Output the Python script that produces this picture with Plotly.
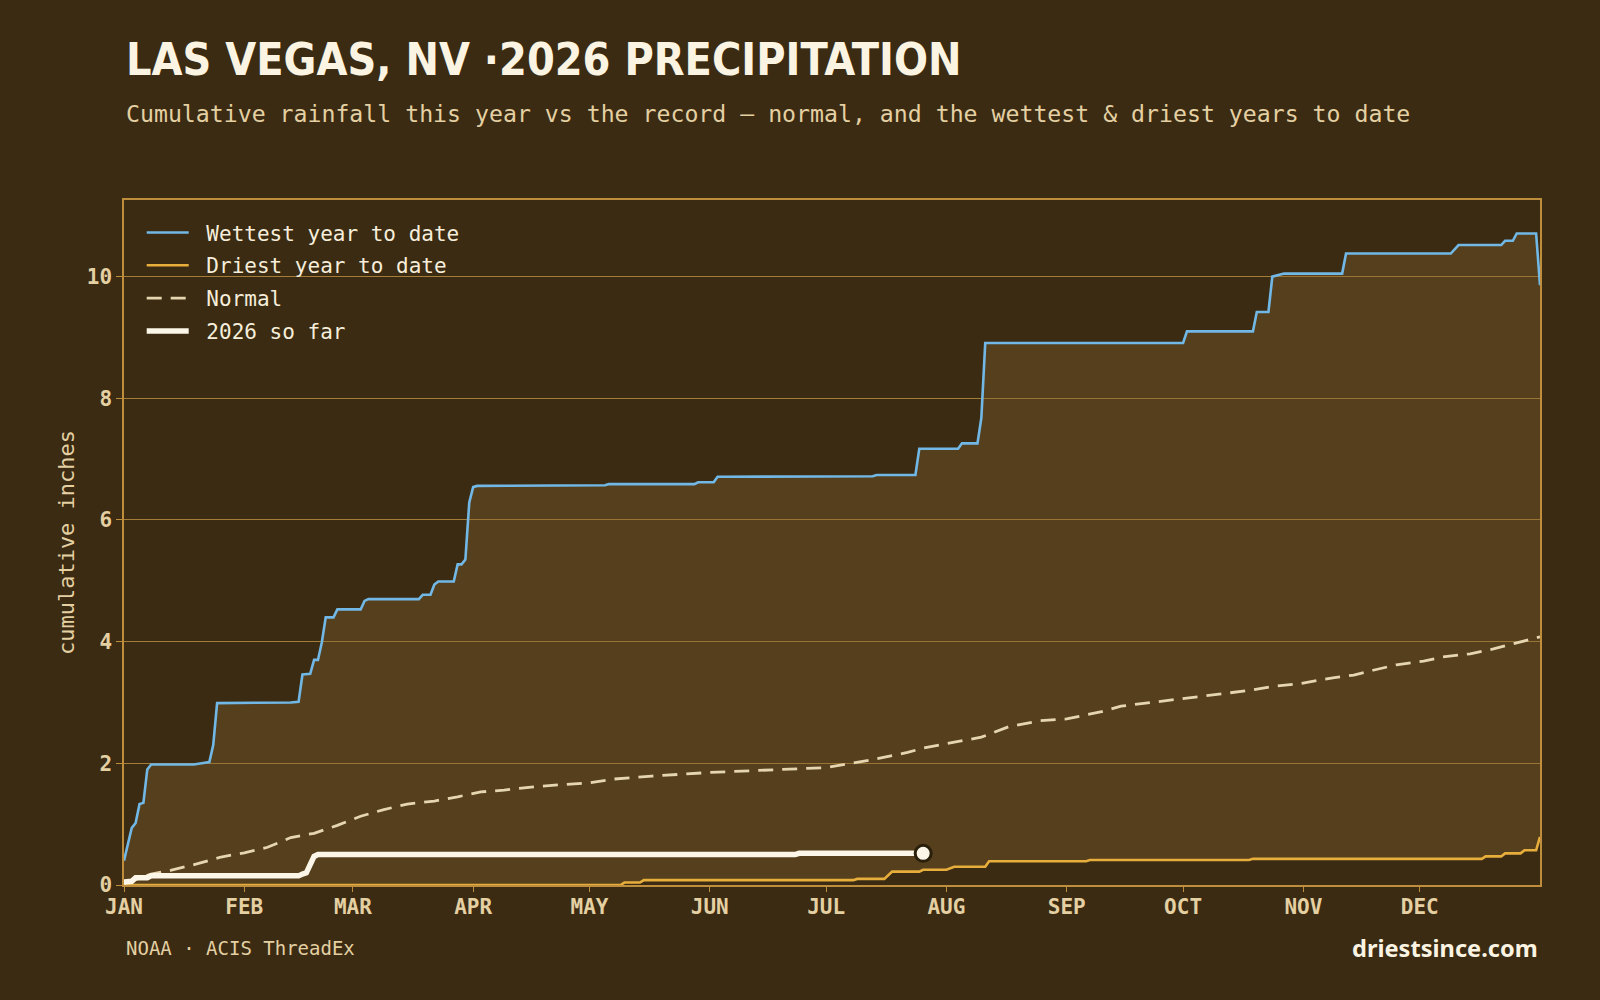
import plotly.graph_objects as go

# ---- data (day of year, 0 = Jan 1; cumulative inches) ----
WETTEST = [(0,0.40),(2,0.94),(3,1.02),(4,1.33),(5,1.35),(6,1.90),(7,1.98),(18,1.98),(20,2.00),(22,2.02),
           (23,2.30),(24,2.99),(43,3.00),(45,3.01),(46,3.46),(48,3.47),(49,3.70),(50,3.70),(51,3.99),(52,4.40),
           (54,4.40),(55,4.53),(61,4.53),(62,4.67),(63,4.70),(76,4.70),(77,4.77),(79,4.77),(80,4.94),(81,4.99),
           (85,4.99),(86,5.27),(87,5.27),(88,5.35),(89,6.29),(90,6.54),(91,6.56),(124,6.57),(125,6.59),(147,6.59),
           (148,6.62),(152,6.62),(153,6.71),(188,6.71),(189,6.72),(193,6.72),(194,6.74),(204,6.74),(205,7.17),
           (215,7.17),(216,7.26),(220,7.26),(221,7.68),(222,8.91),(273,8.91),(274,9.10),(291,9.10),(292,9.42),
           (295,9.42),(296,10.00),(299,10.05),(314,10.05),(315,10.38),(342,10.38),(344,10.52),(355,10.52),
           (356,10.59),(358,10.59),(359,10.71),(364,10.71),(365,9.86)]

DRIEST = [(0,0.0),(128,0.0),(129,0.04),(133,0.04),(134,0.08),(188,0.08),(189,0.10),(196,0.10),(198,0.22),
          (205,0.22),(206,0.25),(212,0.25),(214,0.30),(222,0.30),(223,0.39),(248,0.39),(249,0.41),(290,0.41),
          (291,0.43),(350,0.43),(351,0.47),(355,0.47),(356,0.52),(360,0.52),(361,0.57),(364,0.57),(365,0.79)]

NORMAL = [(0,0.02),(7,0.18),(12,0.24),(19,0.35),(25,0.46),(31,0.53),(37,0.62),(43,0.78),(49,0.85),(55,0.98),
          (61,1.13),(67,1.24),(73,1.33),(80,1.38),(86,1.45),(92,1.53),(98,1.56),(105,1.61),(113,1.65),(120,1.68),
          (126,1.74),(136,1.79),(151,1.85),(168,1.90),(181,1.93),(192,2.05),(202,2.18),(206,2.25),(212,2.32),
          (221,2.43),(228,2.60),(236,2.70),(243,2.73),(252,2.85),(257,2.94),(265,3.00),(273,3.07),(281,3.12),
          (289,3.19),(297,3.27),(303,3.31),(312,3.41),(317,3.45),(322,3.53),(328,3.62),(335,3.68),(340,3.75),
          (347,3.80),(353,3.88),(359,3.98),(365,4.08)]

YEAR_2026 = [(0,0.05),(2,0.06),(3,0.12),(6,0.12),(7,0.15),(45,0.15),(46,0.18),(47,0.20),(49,0.47),(50,0.50),
             (173,0.50),(174,0.52),(206,0.52)]

MONTH_START_DAYS = [0, 31, 59, 90, 120, 151, 181, 212, 243, 273, 304, 334]
MONTH_LABELS = ["JAN", "FEB", "MAR", "APR", "MAY", "JUN", "JUL", "AUG", "SEP", "OCT", "NOV", "DEC"]
Y_TICKS = [0, 2, 4, 6, 8, 10]

def xs(s): return [p[0] for p in s]
def ys(s): return [p[1] for p in s]

BG = "#3a2b12"
FILL = "rgba(132,101,49,0.36)"
GRID = "#a47d38"
FRAME = "#bf8e3c"
TAN = "#e4d0a2"
CREAM = "#f6eedb"
MONO = "DejaVu Sans Mono"
NB = "\u00a0"

fig = go.Figure()

fig.add_trace(go.Scatter(x=xs(DRIEST), y=ys(DRIEST), mode="lines", name=NB + "Driest year to date",
                         line=dict(color="#e8ae3c", width=2.6), legendrank=2, legendgroup="d"))
# band between driest and wettest
fig.add_trace(go.Scatter(x=xs(WETTEST), y=ys(WETTEST), mode="lines", showlegend=False,
                         line=dict(color="rgba(0,0,0,0)", width=0), fill="tonexty", fillcolor=FILL,
                         hoverinfo="skip"))
fig.add_trace(go.Scatter(x=xs(WETTEST), y=ys(WETTEST), mode="lines", name=NB + "Wettest year to date",
                         line=dict(color="#72b8e6", width=2.6), legendrank=1, legendgroup="w"))
fig.add_trace(go.Scatter(x=xs(NORMAL), y=ys(NORMAL), mode="lines", name=NB + "Normal",
                         line=dict(color="#e6d6b0", width=2.8, dash="15px,9px"), legendrank=3, legendgroup="n"))
fig.add_trace(go.Scatter(x=xs(YEAR_2026), y=ys(YEAR_2026), mode="lines", name=NB + "2026 so far",
                         line=dict(color="#fbf6e8", width=5.5), legendrank=4, legendgroup="c"))
fig.add_trace(go.Scatter(x=[YEAR_2026[-1][0]], y=[YEAR_2026[-1][1]], mode="markers", showlegend=False,
                         marker=dict(size=16, color="#fbf6e8", line=dict(color="#2a1f0b", width=3))))

fig.update_layout(
    width=1600, height=1000,
    paper_bgcolor=BG, plot_bgcolor=BG,
    margin=dict(l=124, r=60, t=200, b=115),
    showlegend=True,
    legend=dict(x=0.0125, y=0.982, xanchor="left", yanchor="top", bgcolor="rgba(0,0,0,0)",
                font=dict(family=MONO, size=21, color=CREAM), tracegroupgap=2.5, itemwidth=42),
    xaxis=dict(range=[0, 365], tickmode="array", tickvals=MONTH_START_DAYS, ticktext=MONTH_LABELS,
               showgrid=False, zeroline=False, showline=True, linecolor=FRAME, linewidth=1.5, mirror=True,
               ticks="outside", ticklen=5, tickcolor=FRAME, tickwidth=1, ticklabelstandoff=-3,
               tickfont=dict(family=MONO, size=21, color=TAN, weight="bold")),
    yaxis=dict(range=[0, 11.26], tickmode="array", tickvals=Y_TICKS,
               showgrid=True, gridcolor=GRID, gridwidth=1, zeroline=False,
               showline=True, linecolor=FRAME, linewidth=1.5, mirror=True,
               ticks="outside", ticklen=6, tickcolor=FRAME, tickwidth=1,
               tickfont=dict(family=MONO, size=21, color=TAN, weight="bold"),
               title=dict(text="cumulative inches", font=dict(family=MONO, size=22, color=TAN), standoff=6)),
)

fig.add_annotation(xref="paper", yref="paper", x=0, y=1.205, xanchor="left", yanchor="middle",
                   text="<b>LAS VEGAS, NV ·2026 PRECIPITATION</b>", showarrow=False,
                   font=dict(family="DejaVu Sans Condensed, DejaVu Sans, sans-serif", size=44.5, color="#fbf4e2"))
fig.add_annotation(xref="paper", yref="paper", x=0, y=1.127, xanchor="left", yanchor="middle",
                   text="Cumulative rainfall this year vs the record — normal, and the wettest &amp; driest years to date",
                   showarrow=False, font=dict(family=MONO, size=23.2, color=TAN))
fig.add_annotation(xref="paper", yref="paper", x=0, y=-0.092, xanchor="left", yanchor="middle",
                   text="NOAA · ACIS ThreadEx", showarrow=False, font=dict(family=MONO, size=19, color=TAN))
fig.add_annotation(xref="paper", yref="paper", x=1, y=-0.092, xanchor="right", yanchor="middle",
                   text="<b>driestsince.com</b>", showarrow=False,
                   font=dict(family="Noto Sans", size=23.6, color="#fbf4e2"))

fig.write_html("out.html")
